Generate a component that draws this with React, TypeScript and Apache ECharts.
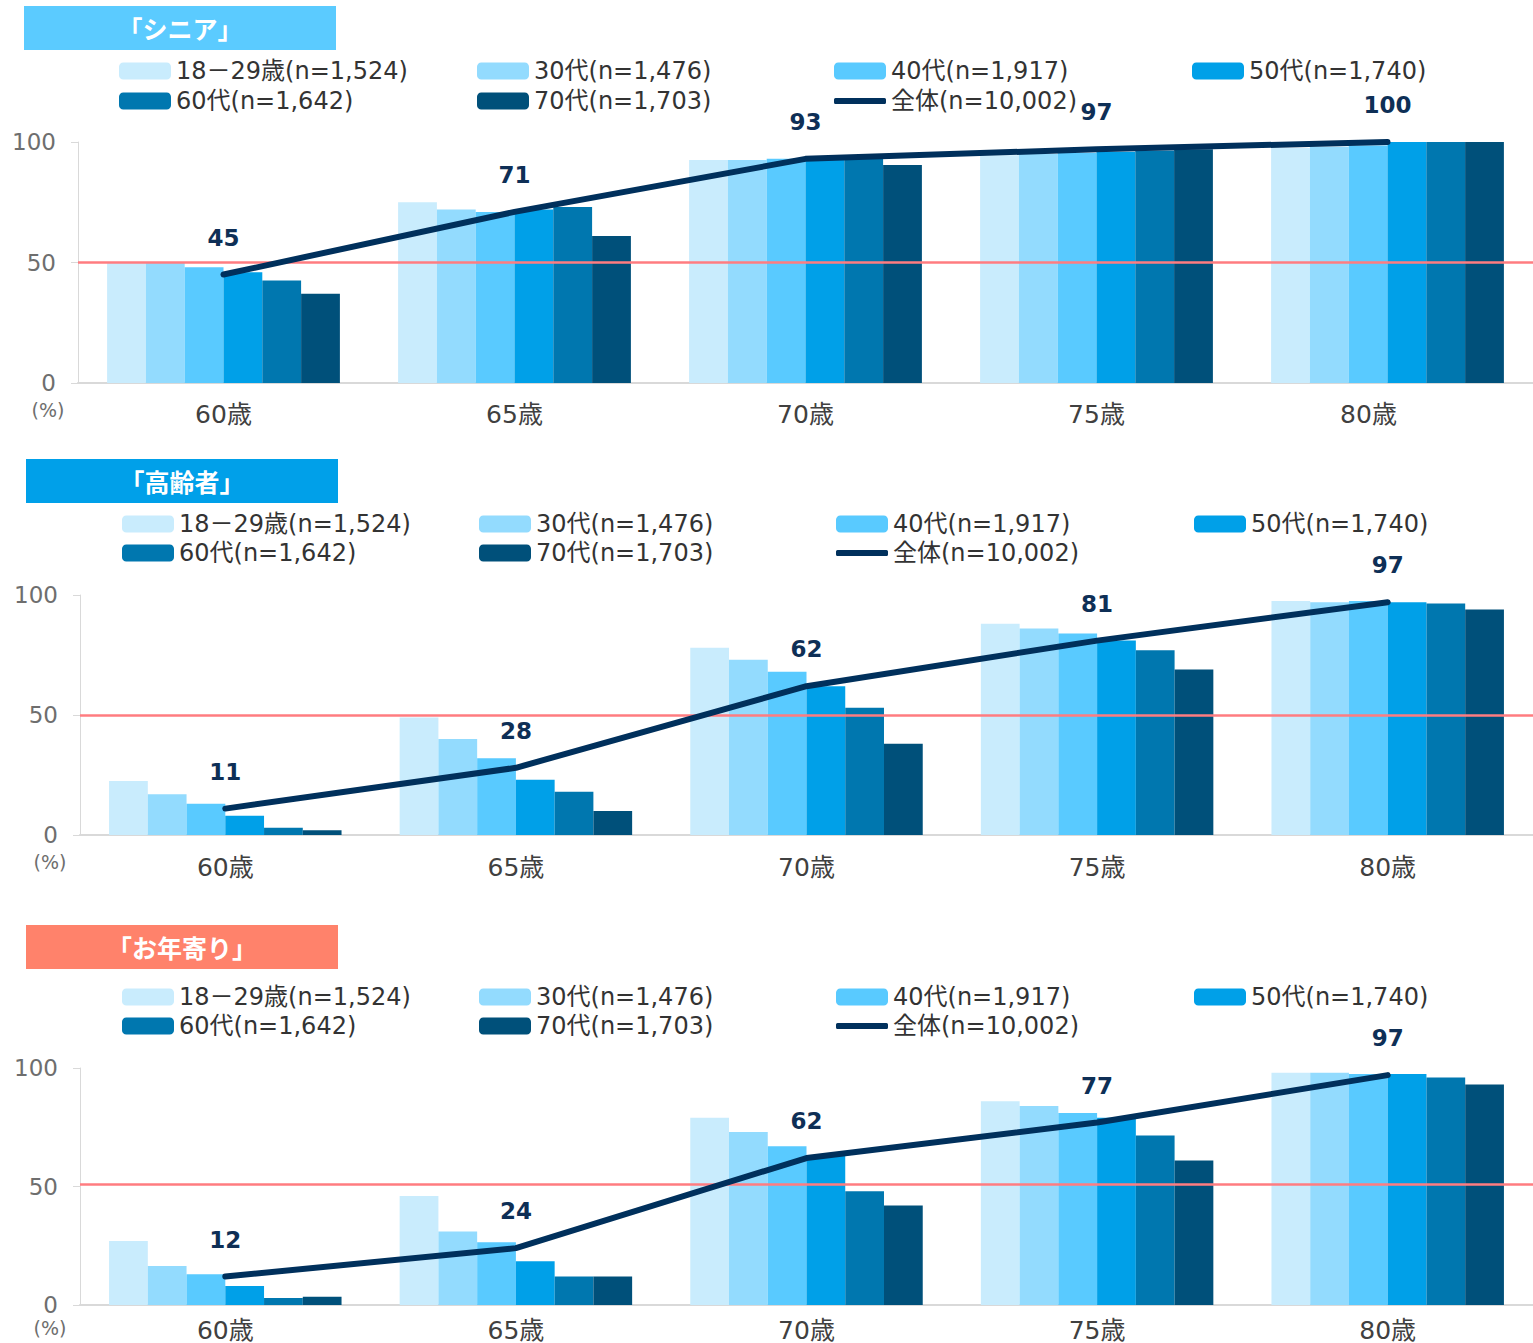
import React, { useEffect, useRef } from "react";
import * as echarts from "echarts";

const categories = ["60歳", "65歳", "70歳", "75歳", "80歳"];
const groupNames = [
  "18－29歳(n=1,524)",
  "30代(n=1,476)",
  "40代(n=1,917)",
  "50代(n=1,740)",
  "60代(n=1,642)",
  "70代(n=1,703)",
];
const totalName = "全体(n=10,002)";
const yTicks = [0, 50, 100];

// 「シニア」
const senior1829 = [50, 75, 92.5, 94.5, 97.5];
const senior30 = [50, 72, 92.5, 95, 98];
const senior40 = [48, 71, 93, 95.5, 98.5];
const senior50 = [46, 72, 93, 96, 100];
const senior60 = [42.5, 73, 93, 96.5, 100];
const senior70 = [37, 61, 90.5, 97, 100];
const seniorTotal = [45, 71, 93, 97, 100];

// 「高齢者」
const koreisha1829 = [22.5, 49, 78, 88, 97.5];
const koreisha30 = [17, 40, 73, 86, 97];
const koreisha40 = [13, 32, 68, 84, 97.5];
const koreisha50 = [8, 23, 62, 81, 97];
const koreisha60 = [3, 18, 53, 77, 96.5];
const koreisha70 = [2, 10, 38, 69, 94];
const koreishaTotal = [11, 28, 62, 81, 97];

// 「お年寄り」
const otoshiyori1829 = [27, 46, 79, 86, 98];
const otoshiyori30 = [16.5, 31, 73, 84, 98];
const otoshiyori40 = [13, 26.5, 67, 81, 97.5];
const otoshiyori50 = [8, 18.5, 63, 79, 97.5];
const otoshiyori60 = [3, 12, 48, 71.5, 96];
const otoshiyori70 = [3.5, 12, 42, 61, 93];
const otoshiyoriTotal = [12, 24, 62, 77, 97];

const panelTitles = ["「シニア」", "「高齢者」", "「お年寄り」"];
const referenceLines = [50, 50, 51];

const barColors = ["#C9ECFD", "#93DBFE", "#59CAFF", "#00A0E8", "#0077AF", "#00507A"];
const lineColor = "#00305C";
const titleColors = ["#5BCBFF", "#00A0E9", "#FF826B"];

const FONT = '"DejaVu Sans", "Noto Sans CJK JP", sans-serif';
const TITLE_FONT = '"Noto Sans CJK JP", sans-serif';

const layouts = [
  { box: [24, 6], legendX: [119, 477, 834, 1192], legendY: [70, 100], grid: { left: 78, top: 142, height: 241 }, pct: [48, 410], xMargin: 19, lastLabelPad: 38 },
  { box: [26, 459], legendX: [122, 479, 836, 1194], legendY: [523, 552], grid: { left: 80, top: 595, height: 240 }, pct: [50, 862], xMargin: 20, lastLabelPad: 0 },
  { box: [26, 925], legendX: [122, 479, 836, 1194], legendY: [996, 1025], grid: { left: 80, top: 1068, height: 240 }, pct: [50, 1328], xMargin: 13, lastLabelPad: 0 },
];

export default function App() {
  const ref = useRef<HTMLDivElement>(null);
  useEffect(() => {
    if (!ref.current) return;
    const chart = echarts.init(ref.current, undefined, { renderer: "svg" });
    const panelValues = [
      { bars: [senior1829, senior30, senior40, senior50, senior60, senior70], total: seniorTotal },
      { bars: [koreisha1829, koreisha30, koreisha40, koreisha50, koreisha60, koreisha70], total: koreishaTotal },
      { bars: [otoshiyori1829, otoshiyori30, otoshiyori40, otoshiyori50, otoshiyori60, otoshiyori70], total: otoshiyoriTotal },
    ];

    const grids: any[] = [];
    const xAxes: any[] = [];
    const yAxes: any[] = [];
    const series: any[] = [];
    const legends: any[] = [];
    const graphics: any[] = [];

    panelValues.forEach((pv, i) => {
      const L = layouts[i];
      grids.push({ left: L.grid.left, top: L.grid.top, width: 1455, height: L.grid.height, containLabel: false });
      xAxes.push({
        type: "category",
        gridIndex: i,
        data: categories.map((c, idx) =>
          idx === categories.length - 1 && L.lastLabelPad
            ? { value: c, textStyle: { padding: [0, L.lastLabelPad, 0, 0] } }
            : c
        ),
        axisLine: { show: true, lineStyle: { color: "#D9D9D9", width: 2 } },
        axisTick: { show: false },
        axisLabel: { margin: L.xMargin, fontSize: 25, color: "#404040", fontFamily: FONT },
      });
      yAxes.push({
        type: "value",
        gridIndex: i,
        min: yTicks[0],
        max: yTicks[yTicks.length - 1],
        interval: 50,
        axisLine: { show: true, lineStyle: { color: "#D9D9D9", width: 1 } },
        axisTick: { show: true, length: 7, lineStyle: { color: "#D9D9D9" } },
        splitLine: { show: false },
        axisLabel: { margin: 22, fontSize: 23, color: "#6E6E6E", fontFamily: FONT },
      });
      groupNames.forEach((name, j) => {
        const s: any = {
          type: "bar",
          name,
          xAxisIndex: i,
          yAxisIndex: i,
          data: pv.bars[j],
          itemStyle: { color: barColors[j] },
          barGap: "0%",
          barCategoryGap: "20%",
        };
        if (j === 0) {
          s.markLine = {
            silent: true,
            symbol: ["none", "none"],
            label: { show: false },
            lineStyle: { color: "#FF7C80", width: 2.5, type: "solid" },
            data: [{ yAxis: referenceLines[i] }],
          };
        }
        series.push(s);
      });
      series.push({
        type: "line",
        name: totalName,
        xAxisIndex: i,
        yAxisIndex: i,
        data: pv.total,
        z: 10,
        symbol: "circle",
        symbolSize: 1,
        showSymbol: true,
        lineStyle: { color: lineColor, width: 6, cap: "round", join: "round" },
        itemStyle: { color: lineColor },
        label: {
          show: true,
          position: "top",
          distance: 25,
          fontSize: 23,
          fontWeight: "bold",
          color: "#0E2F56",
          fontFamily: FONT,
        },
      });

      const allNames = [...groupNames, totalName];
      allNames.forEach((name, k) => {
        const col = k < 4 ? k : k - 4;
        const row = k < 4 ? 0 : 1;
        const isLine = k === 6;
        legends.push({
          left: L.legendX[col],
          top: L.legendY[row] - 11,
          padding: 0,
          itemGap: 0,
          itemWidth: 52,
          itemHeight: isLine ? 6 : 17,
          selectedMode: false,
          data: [isLine ? { name, icon: "roundRect" } : name],
          textStyle: { fontSize: 24, color: "#333333", fontFamily: FONT, lineHeight: 24 },
        });
      });

      graphics.push({
        type: "rect",
        left: L.box[0],
        top: L.box[1],
        shape: { width: 312, height: 44 },
        style: { fill: titleColors[i] },
        z: 1,
      });
      graphics.push({
        type: "text",
        x: L.box[0] + 156,
        y: L.box[1] + 22,
        style: {
          text: panelTitles[i],
          fill: "#FFFFFF",
          font: `bold 25px ${TITLE_FONT}`,
          textAlign: "center",
          textVerticalAlign: "middle",
        },
        z: 2,
      });
      graphics.push({
        type: "text",
        x: L.pct[0],
        y: L.pct[1],
        style: {
          text: "(%)",
          fill: "#6E6E6E",
          font: `19px ${FONT}`,
          textAlign: "center",
          textVerticalAlign: "middle",
        },
        z: 2,
      });
    });

    chart.setOption({
      animation: false,
      backgroundColor: "#FFFFFF",
      textStyle: { fontFamily: FONT },
      grid: grids,
      xAxis: xAxes,
      yAxis: yAxes,
      legend: legends,
      series,
      graphic: graphics,
    });
    return () => chart.dispose();
  }, []);

  return (
    <div
      ref={ref}
      style={{ position: "absolute", left: 0, top: 0, width: 1533, height: 1343 }}
    />
  );
}
